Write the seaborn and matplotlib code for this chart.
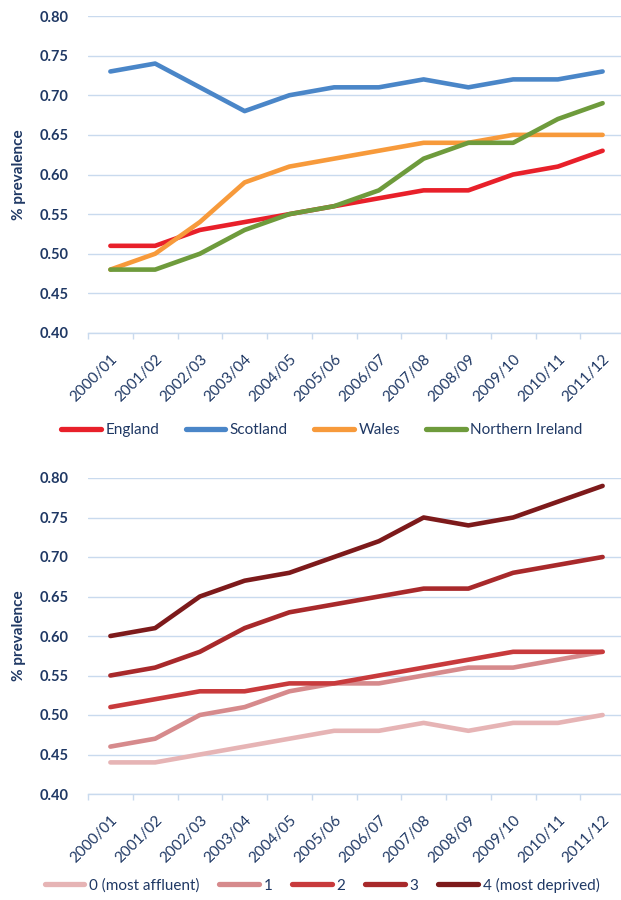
import matplotlib
matplotlib.use("Agg")
import matplotlib.pyplot as plt
import seaborn as sns
import pandas as pd
import numpy as np

years = ["2000/01", "2001/02", "2002/03", "2003/04", "2004/05", "2005/06",
         "2006/07", "2007/08", "2008/09", "2009/10", "2010/11", "2011/12"]

england = [0.51, 0.51, 0.53, 0.54, 0.55, 0.56, 0.57, 0.58, 0.58, 0.60, 0.61, 0.63]
scotland = [0.73, 0.74, 0.71, 0.68, 0.70, 0.71, 0.71, 0.72, 0.71, 0.72, 0.72, 0.73]
wales = [0.48, 0.50, 0.54, 0.59, 0.61, 0.62, 0.63, 0.64, 0.64, 0.65, 0.65, 0.65]
n_ireland = [0.48, 0.48, 0.50, 0.53, 0.55, 0.56, 0.58, 0.62, 0.64, 0.64, 0.67, 0.69]

q0 = [0.44, 0.44, 0.45, 0.46, 0.47, 0.48, 0.48, 0.49, 0.48, 0.49, 0.49, 0.50]
q1 = [0.46, 0.47, 0.50, 0.51, 0.53, 0.54, 0.54, 0.55, 0.56, 0.56, 0.57, 0.58]
q2 = [0.51, 0.52, 0.53, 0.53, 0.54, 0.54, 0.55, 0.56, 0.57, 0.58, 0.58, 0.58]
q3 = [0.55, 0.56, 0.58, 0.61, 0.63, 0.64, 0.65, 0.66, 0.66, 0.68, 0.69, 0.70]
q4 = [0.60, 0.61, 0.65, 0.67, 0.68, 0.70, 0.72, 0.75, 0.74, 0.75, 0.77, 0.79]

country_names = ["England", "Scotland", "Wales", "Northern Ireland"]
country_colors = ["#E8202A", "#4A86C8", "#F79A3B", "#6E9B3C"]
quint_names = ["0 (most affluent)", "1", "2", "3", "4 (most deprived)"]
quint_colors = ["#E6B4B5", "#D68A8C", "#C83A3C", "#A8292B", "#7D1A1B"]
yticks = [0.40, 0.45, 0.50, 0.55, 0.60, 0.65, 0.70, 0.75, 0.80]

sns.set_theme(style="white")
plt.rcParams['font.family'] = ['Lato', 'DejaVu Sans']
NAVY = "#1F3864"
GRID = "#C9DAEE"


def long_df(names, series):
    rows = []
    for n, s in zip(names, series):
        for i, v in enumerate(s):
            rows.append({"x": i, "year": years[i], "value": v, "group": n})
    return pd.DataFrame(rows)


fig = plt.figure(figsize=(6.21, 9.0), dpi=100)
L = 88 / 621
W = (625 - 88) / 621
ax1 = fig.add_axes([L, (900 - 333) / 900, W, 317 / 900])
ax2 = fig.add_axes([L, (900 - 794) / 900, W, 316 / 900])

df1 = long_df(country_names, [england, scotland, wales, n_ireland])
df2 = long_df(quint_names, [q0, q1, q2, q3, q4])

sns.lineplot(data=df1, x="x", y="value", hue="group", hue_order=country_names,
             palette=country_colors, ax=ax1, linewidth=3.3, legend=False,
             solid_capstyle="round", solid_joinstyle="round")
sns.lineplot(data=df2, x="x", y="value", hue="group", hue_order=quint_names,
             palette=quint_colors, ax=ax2, linewidth=3.3, legend=False,
             solid_capstyle="round", solid_joinstyle="round")

for ax in (ax1, ax2):
    ax.set_xlim(-0.5, 11.5)
    ax.set_ylim(0.40, 0.80)
    ax.set_yticks(yticks)
    ax.set_yticklabels([f"{t:.2f}" for t in yticks], fontsize=10.5,
                       fontweight="bold", color=NAVY)
    ax.set_xticks(range(len(years)))
    ax.set_xticklabels(years, rotation=45, ha="right", va="top",
                       rotation_mode="anchor", fontsize=11, color=NAVY)
    ax.set_xticks(np.arange(-0.5, 12, 1), minor=True)
    ax.tick_params(axis="x", which="major", length=0, pad=14)
    ax.tick_params(axis="x", which="minor", length=4, color=GRID, width=1,
                   direction="out", bottom=True)
    ax.tick_params(axis="y", length=0, pad=14)
    ax.grid(axis="y", color=GRID, linewidth=1)
    ax.set_axisbelow(True)
    for s in ["top", "right", "left"]:
        ax.spines[s].set_visible(False)
    ax.spines["bottom"].set_color(GRID)
    ax.spines["bottom"].set_linewidth(1)
    ax.set_xlabel("")
    ax.set_ylabel("% prevalence", fontsize=11, fontweight="bold",
                  color=NAVY)
    ax.yaxis.set_label_coords(-0.115, 0.5)

h1 = [plt.Line2D([], [], color=c, lw=3.8, solid_capstyle="round")
      for c in country_colors]
fig.legend(h1, country_names, loc="center", bbox_to_anchor=(322 / 621, 1 - 430 / 900),
           ncol=4, frameon=False, fontsize=11, handlelength=2.6,
           handletextpad=0.3, columnspacing=1.7, labelcolor=NAVY)

h2 = [plt.Line2D([], [], color=c, lw=3.8, solid_capstyle="round")
      for c in quint_colors]
fig.legend(h2, quint_names, loc="center", bbox_to_anchor=(322 / 621, 1 - 885 / 900),
           ncol=5, frameon=False, fontsize=11, handlelength=2.6,
           handletextpad=0.3, columnspacing=1.3, labelcolor=NAVY)

fig.savefig("out.png", dpi=100)
